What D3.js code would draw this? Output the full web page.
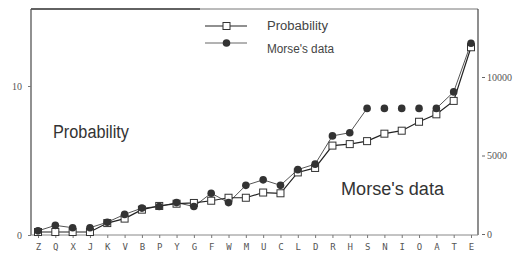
<!DOCTYPE html>
<html lang="en">
<head>
<meta charset="UTF-8">
<title>Probability vs Morse's data</title>
<script src="https://d3js.org/d3.v7.min.js"></script>
<style>
  body { margin: 0; background: #fff; }
  svg { display: block; }
</style>
</head>
<body>
<div id="chart"></div>
<script>
// letters ordered by frequency
const letters = ["Z","Q","X","J","K","V","B","P","Y","G","F","W","M","U","C","L","D","R","H","S","N","I","O","A","T","E"];
// letter probability, percent (left axis)
const probability = [0.2,0.2,0.2,0.2,0.8,1.1,1.7,1.95,2.1,2.15,2.3,2.5,2.5,2.85,2.8,4.2,4.5,6.0,6.1,6.3,6.8,7.0,7.6,8.1,9.0,12.6];
// Morse's type counts (right axis)
const morse = [200,550,400,400,750,1250,1650,1750,2000,1750,2600,2000,3100,3450,3100,4100,4450,6250,6450,8000,8000,8000,8000,8000,9050,12150];
const leftTicks = [0, 10];
const rightTicks = [0, 5000, 10000];

const width = 514, height = 259;
const plotLeft = 31, plotRight = 478, plotTop = 9, plotBottom = 235;

const svg = d3.select("#chart").append("svg")
    .attr("width", width)
    .attr("height", height);

const x = d3.scalePoint().domain(letters).range([38, 471]);
const yL = d3.scaleLinear().domain([0, 10]).range([plotBottom, 86]);
const yR = d3.scaleLinear().domain([0, 10000]).range([234, 77]);

// frame top
svg.append("line").attr("x1", plotLeft).attr("x2", plotRight).attr("y1", plotTop).attr("y2", plotTop)
    .attr("stroke", "#777").attr("stroke-width", 1);
svg.append("line").attr("x1", plotLeft).attr("x2", 200).attr("y1", plotTop).attr("y2", plotTop)
    .attr("stroke", "#444").attr("stroke-width", 1.3);

// left axis
const gL = svg.append("g").attr("transform", `translate(${plotLeft},0)`)
    .call(d3.axisLeft(yL).tickValues(leftTicks).tickSize(3).tickPadding(6));
// right axis
const gR = svg.append("g").attr("transform", `translate(${plotRight},0)`)
    .call(d3.axisRight(yR).tickValues(rightTicks).tickFormat(d3.format("d")).tickSize(0).tickPadding(9));
// bottom axis
const gB = svg.append("g").attr("transform", `translate(0,${plotBottom})`)
    .call(d3.axisBottom(x).tickSize(3).tickPadding(6));

gB.select(".domain").attr("d", `M${plotLeft},0H${plotRight}`).attr("stroke", "#888");
gL.select(".domain").attr("d", `M0,${plotTop}V${plotBottom}`).attr("stroke", "#555").attr("stroke-width", 1.3);
gR.select(".domain").attr("d", `M0,${plotTop}V${plotBottom}`).attr("stroke", "#444").attr("stroke-width", 1.2);
svg.selectAll(".tick line").attr("stroke", "#777");

gL.selectAll("text").attr("font-family", "Liberation Serif").attr("font-size", 10).attr("fill", "#555");
gR.selectAll("text").attr("font-family", "Liberation Serif").attr("font-size", 10).attr("fill", "#555");
// little dash ticks detached from the right axis
gR.selectAll(".tick").append("line")
    .attr("x1", 4).attr("x2", 7).attr("stroke", "#666");
gB.selectAll("text").attr("font-family", "DejaVu Sans Mono").attr("font-size", 9).attr("fill", "#555");

// Morse line: skip flat runs (drawn as bare dots in the original)
const segs = d3.pairs(d3.range(letters.length)).filter(([a, b]) => morse[a] !== morse[b]);
svg.append("g").selectAll("line")
    .data(segs)
    .join("line")
    .attr("x1", d => x(letters[d[0]])).attr("y1", d => yR(morse[d[0]]))
    .attr("x2", d => x(letters[d[1]])).attr("y2", d => yR(morse[d[1]]))
    .attr("stroke", "#555").attr("stroke-width", 1);

svg.append("path")
    .datum(probability)
    .attr("fill", "none")
    .attr("stroke", "#222")
    .attr("stroke-width", 1.2)
    .attr("d", d3.line().x((d, i) => x(letters[i])).y(d => yL(d)));

svg.append("g").selectAll("rect")
    .data(probability)
    .join("rect")
    .attr("x", (d, i) => x(letters[i]) - 3.5)
    .attr("y", d => yL(d) - 3.5)
    .attr("width", 7).attr("height", 7)
    .attr("fill", "#fff")
    .attr("stroke", "#333")
    .attr("stroke-width", 1);

svg.append("g").selectAll("circle")
    .data(morse)
    .join("circle")
    .attr("cx", (d, i) => x(letters[i]))
    .attr("cy", d => yR(d))
    .attr("r", 3.8)
    .attr("fill", "#333");

// legend
const leg = svg.append("g");
leg.append("line").attr("x1", 205).attr("x2", 247).attr("y1", 26).attr("y2", 26).attr("stroke", "#222").attr("stroke-width", 1.2);
leg.append("rect").attr("x", 223).attr("y", 22.5).attr("width", 7).attr("height", 7)
    .attr("fill", "#fff").attr("stroke", "#333");
leg.append("line").attr("x1", 205).attr("x2", 247).attr("y1", 43).attr("y2", 43).attr("stroke", "#666");
leg.append("circle").attr("cx", 226.5).attr("cy", 43).attr("r", 3.8).attr("fill", "#333");
leg.append("text").attr("x", 267).attr("y", 30).text("Probability")
    .attr("font-family", "Liberation Sans").attr("font-size", 12).attr("fill", "#444")
    .attr("textLength", 61).attr("lengthAdjust", "spacingAndGlyphs");
leg.append("text").attr("x", 267).attr("y", 53).text("Morse's data")
    .attr("font-family", "Liberation Sans").attr("font-size", 12).attr("fill", "#444")
    .attr("textLength", 67).attr("lengthAdjust", "spacingAndGlyphs");

// axis captions inside the plot
svg.append("text").attr("x", 53).attr("y", 138).text("Probability")
    .attr("font-family", "Liberation Sans").attr("font-size", 18).attr("fill", "#333")
    .attr("textLength", 76).attr("lengthAdjust", "spacingAndGlyphs");
svg.append("text").attr("x", 341).attr("y", 195).text("Morse's data")
    .attr("font-family", "Liberation Sans").attr("font-size", 18).attr("fill", "#333")
    .attr("textLength", 103).attr("lengthAdjust", "spacingAndGlyphs");
</script>
</body>
</html>
